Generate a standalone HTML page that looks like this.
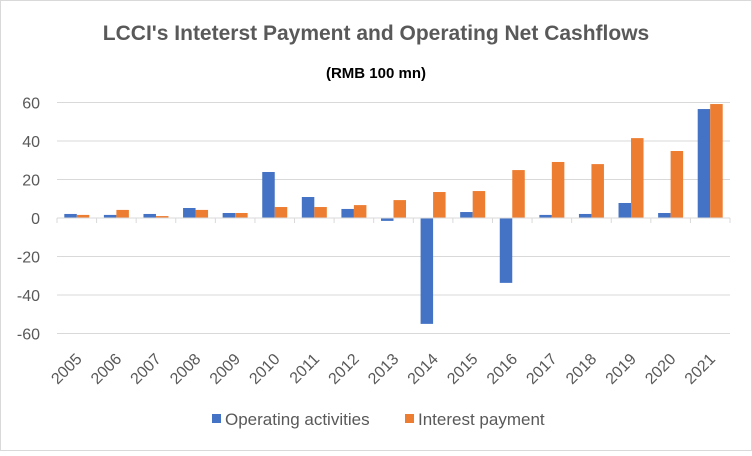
<!DOCTYPE html>
<html><head><meta charset="utf-8"><style>
body{margin:0;background:#fff;font-family:"Liberation Sans",sans-serif}
svg text{font-family:"Liberation Sans",sans-serif}
</style></head><body>
<svg width="752" height="451" viewBox="0 0 752 451">
<rect x="0.5" y="0.5" width="751" height="450" fill="#fff" stroke="#d9d9d9"/>
<text x="376" y="40" text-anchor="middle" font-size="21" font-weight="bold" fill="#595959">LCCI's Inteterst Payment and Operating Net Cashflows</text>
<text x="376" y="78" text-anchor="middle" font-size="15" font-weight="bold" fill="#000">(RMB 100 mn)</text>
<g id="grid"></g><g id="bars"></g><g id="axis"></g>
<g>
<rect x="212" y="414" width="9" height="9" fill="#4472c4"/>
<text x="225" y="425" font-size="17" fill="#595959">Operating activities</text>
<rect x="405" y="414" width="9" height="9" fill="#ed7d31"/>
<text x="418" y="425" font-size="17" fill="#595959">Interest payment</text>
</g>
</svg>
<script>
const categories=["2005","2006","2007","2008","2009","2010","2011","2012","2013","2014","2015","2016","2017","2018","2019","2020","2021"];
const operating=[2.1,1.6,2.1,5.2,2.6,23.9,10.9,4.7,-1.5,-55,3.1,-33.7,1.6,2.1,7.8,2.6,56.6];
const interest=[1.6,4.2,1.0,4.2,2.6,5.7,5.7,6.7,9.3,13.5,14.0,24.9,29.1,28.0,41.5,34.8,59.2];
const yTicks=[60,40,20,0,-20,-40,-60];
const NS="http://www.w3.org/2000/svg";
const L=57,R=730,y0=218,k=115.5/60;
const bw=(R-L)/categories.length;
const y=v=>y0-v*k;
const xc=i=>L+bw*(i+0.5);
function mk(t,a,p){const e=document.createElementNS(NS,t);for(const n in a)e.setAttribute(n,a[n]);p.appendChild(e);return e;}
const grid=document.getElementById('grid'),bars=document.getElementById('bars'),axis=document.getElementById('axis');
yTicks.forEach(v=>{
 if(v!==0){const g=mk('line',{x1:L,x2:R,y1:y(v),y2:y(v),stroke:'#d9d9d9','stroke-width':1},grid);
 
 }
 const t=mk('text',{x:40,y:y(v)+6,'text-anchor':'end','font-size':16,fill:'#595959'},axis);
 t.textContent=v;
 
 
});
const ax=mk('line',{x1:L,x2:R,y1:y0,y2:y0,stroke:'#d9d9d9','stroke-width':1},axis);


const w=12.5;
categories.forEach((c,i)=>{
 const tk=mk('line',{x1:L+bw*i,x2:L+bw*i,y1:y0,y2:y0+5,stroke:'#d9d9d9'},axis);
 
 
 [[operating[i],'#4472c4',-w,'bar-operating-'],[interest[i],'#ed7d31',0,'bar-interest-']].forEach(([v,col,off,nm])=>{
  const r=mk('rect',{x:xc(i)+off,y:Math.min(y(v),y0),width:w,height:Math.abs(y(v)-y0),fill:col},bars);
  
  
 });
 const ax_=xc(i)+6, ay=y0+142;
 const t=mk('text',{x:ax_,y:ay,'text-anchor':'end','font-size':16,fill:'#595959',transform:`rotate(-45 ${ax_} ${ay})`},axis);
 t.textContent=c;
 
 
});
const last=mk('line',{x1:R,x2:R,y1:y0,y2:y0+5,stroke:'#d9d9d9'},axis);


</script>
</body></html>
